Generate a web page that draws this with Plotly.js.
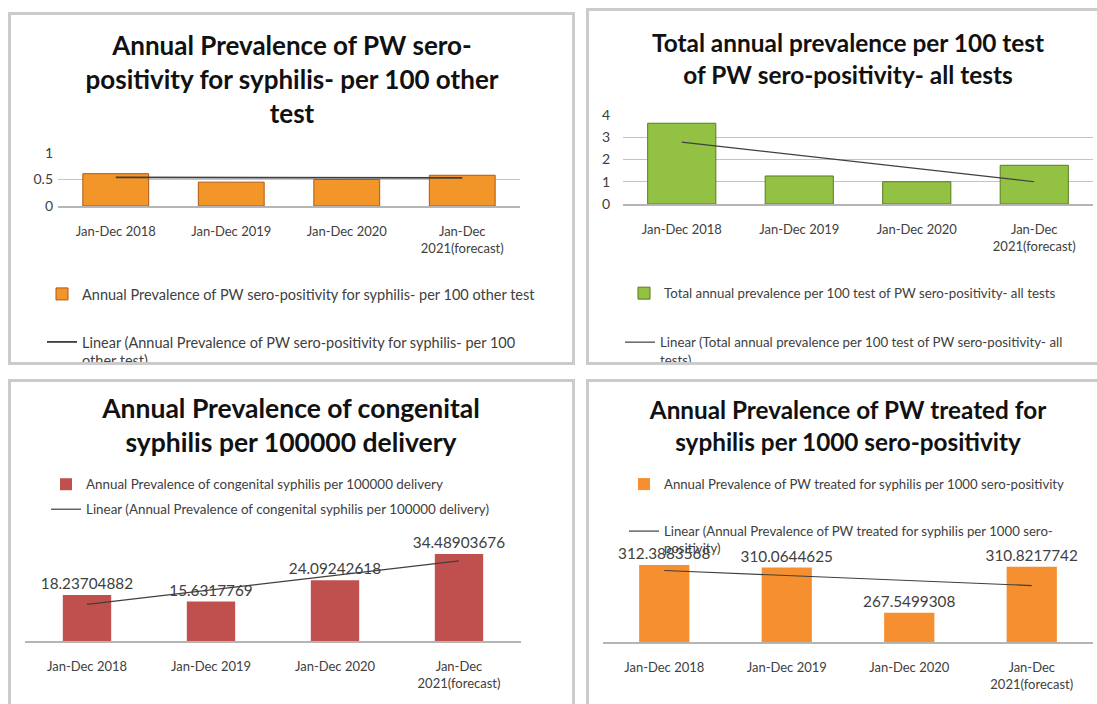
<!DOCTYPE html>
<html><head><meta charset="utf-8">
<script src="https://cdn.plot.ly/plotly-3.0.1.min.js"></script>
<style>
html,body{margin:0;padding:0;background:#fff;}
body{width:1097px;height:704px;overflow:hidden;position:relative;}
.box{position:absolute;border:3px solid #cbcbcb;overflow:hidden;background:#fff;box-sizing:border-box;}
.plot{position:absolute;left:0;top:0;}
</style></head><body>
<div class="box" id="b1"><div class="plot" id="p1"></div></div>
<div class="box" id="b2"><div class="plot" id="p2"></div></div>
<div class="box" id="b3"><div class="plot" id="p3"></div></div>
<div class="box" id="b4"><div class="plot" id="p4"></div></div>
<script>
// ---------- data ----------
const categories = ['Jan-Dec 2018', 'Jan-Dec 2019', 'Jan-Dec 2020', 'Jan-Dec 2021(forecast)'];
const tickLabels = ['Jan-Dec 2018', 'Jan-Dec 2019', 'Jan-Dec 2020', 'Jan-Dec<br>2021(forecast)'];

const otherTestValues = [0.61, 0.45, 0.50, 0.58];
const otherTestTrend = [0.54, 0.53];           // trendline ends (first / last category)

const allTestsValues = [3.63, 1.26, 1.00, 1.74];
const allTestsTrend = [2.78, 1.00];

const congenitalValues = [18.23704882, 15.6317769, 24.09242618, 34.48903676];
const congenitalTrend = [14.5, 31.7];

const treatedValues = [312.3883568, 310.0644625, 267.5499308, 310.8217742];
const treatedTrend = [307.3, 293.1];

const titles = [
  'Annual Prevalence of PW sero-<br>positivity for syphilis- per 100 other<br>test',
  'Total annual prevalence per 100 test<br>of PW sero-positivity- all tests',
  'Annual Prevalence of congenital<br>syphilis per 100000 delivery',
  'Annual Prevalence of PW treated for<br>syphilis per 1000 sero-positivity'
];
const barNames = [
  'Annual Prevalence of PW sero-positivity for syphilis- per 100 other test',
  'Total annual prevalence per 100 test of PW sero-positivity- all tests',
  'Annual Prevalence of congenital syphilis per 100000 delivery',
  'Annual Prevalence of PW treated for syphilis per 1000 sero-positivity'
];
const trendNames = [
  'Linear (Annual Prevalence of PW sero-positivity for syphilis- per 100<br>other test)',
  'Linear (Total annual prevalence per 100 test of PW sero-positivity- all<br>tests)',
  'Linear (Annual Prevalence of congenital syphilis per 100000 delivery)',
  'Linear (Annual Prevalence of PW treated for syphilis per 1000 sero-<br>positivity)'
];

// ---------- layout geometry (page pixels) ----------
const FONT = 'Lato, "Open Sans", sans-serif';
const BW = 3;
const panels = [
  {id:'p1', box:{L:8, T:12, W:567, H:353}, px:[57.5, 520], py:[206, 153], range:[0,1], dtick:0.5,
   grid:true, yticks:true, ystand:4, title:{cx:292, cy:46, size:26}, legSize:14.5,
   leg1:{tx:82, cy:293}, leg2:{tx:82, cy:341}, gap:0.43, lw:1.8,
   bar:{color:'#f3962a', line:'#b05810', lw:1}, vals:otherTestValues, trend:otherTestTrend, labels:false},
  {id:'p2', box:{L:586, T:8, W:530, H:357}, px:[623, 1093], py:[204, 115], range:[0,4], dtick:1,
   grid:true, yticks:true, ystand:12, title:{cx:848, cy:43, size:24.4}, legSize:13.3,
   leg1:{tx:664, cy:293}, leg2:{tx:660, cy:342}, gap:0.42, lw:1.2,
   bar:{color:'#92c144', line:'#587d1f', lw:1}, vals:allTestsValues, trend:allTestsTrend, labels:false},
  {id:'p3', box:{L:8, T:379, W:567, H:340}, px:[25, 521], py:[641, 540.4], range:[0,40], dtick:10,
   grid:false, yticks:false, ystand:4, title:{cx:291, cy:409, size:26.5}, legSize:13.4,
   leg1:{tx:86, cy:484}, leg2:{tx:86, cy:509}, gap:0.61, lw:1.2,
   bar:{color:'#c0504d', line:'#c0504d', lw:0}, vals:congenitalValues, trend:congenitalTrend, labels:true},
  {id:'p4', box:{L:586, T:379, W:530, H:340}, px:[603, 1093], py:[641.7, 557.1], range:[240,320], dtick:20,
   grid:false, yticks:false, ystand:4, title:{cx:848, cy:410, size:24.3}, legSize:13.2,
   leg1:{tx:664, cy:484}, leg2:{tx:664, cy:531}, gap:0.59, lw:1.2,
   bar:{color:'#f58f2f', line:'#f58f2f', lw:0}, vals:treatedValues, trend:treatedTrend, labels:true}
];

panels.forEach((p, i) => {
  const b = document.getElementById('b' + (i+1));
  b.style.left = p.box.L + 'px'; b.style.top = p.box.T + 'px';
  b.style.width = p.box.W + 'px'; b.style.height = p.box.H + 'px';
  const oL = p.box.L + BW, oT = p.box.T + BW;
  const W = p.box.W - 2*BW, H = p.box.H - 2*BW;
  const cx = v => (v - oL) / W;
  const cy = v => 1 - (v - oT) / H;

  const barTrace = {
    type:'bar', x:categories, y:p.vals, name:barNames[i], legend:'legend',
    marker:{color:p.bar.color, line:{color:p.bar.line, width:p.bar.lw}},
    hoverinfo:'skip', cliponaxis:false
  };
  if (p.labels) {
    barTrace.text = p.vals.map(v => String(v));
    barTrace.textposition = 'outside';
    barTrace.constraintext = 'none';
    barTrace.textfont = {family:FONT, size:15.3, color:'#404040'};
  }
  const trendTrace = {
    type:'scatter', mode:'lines', x:[categories[0], categories[categories.length-1]], y:p.trend,
    name:trendNames[i], legend:'legend2', line:{color:'#3f3f3f', width:p.lw}, hoverinfo:'skip',
    cliponaxis:false
  };

  const legBase = {xref:'container', yref:'container', xanchor:'left', yanchor:'top', valign:'top',
    bgcolor:'rgba(0,0,0,0)', font:{family:FONT, size:p.legSize, color:'#404040'}};

  const layout = {
    width:W, height:H,
    margin:{l:p.px[0]-oL, r:W-(p.px[1]-oL), t:p.py[1]-oT, b:H-(p.py[0]-oT), pad:0, autoexpand:false},
    paper_bgcolor:'#fff', plot_bgcolor:'rgba(0,0,0,0)',
    font:{family:FONT, color:'#404040'},
    showlegend:true,
    bargap:p.gap,
    title:{text:titles[i], xref:'container', yref:'container', x:cx(p.title.cx), y:cy(p.title.cy + 9),
      xanchor:'center', yanchor:'middle', automargin:false,
      font:{family:FONT, size:p.title.size, color:'#111', weight:'bold'}},
    xaxis:{type:'category', tickvals:categories, ticktext:tickLabels, showgrid:false, zeroline:false,
      showline:true, linecolor:'#b5b5b5', linewidth:1.5, ticks:'', ticklabelstandoff:13,
      tickfont:{family:FONT, size:13, color:'#404040'}, fixedrange:true, automargin:false},
    yaxis:{range:p.range, dtick:p.dtick, showgrid:p.grid, gridcolor:'#c4c4c4', gridwidth:1.2,
      zeroline:false, showline:false, showticklabels:p.yticks, ticks:'', ticklabelstandoff:p.ystand,
      tickfont:{family:FONT, size:14, color:'#404040'}, fixedrange:true, automargin:false},
    legend:Object.assign({}, legBase, {x:cx(p.leg1.tx - 40), y:cy(p.leg1.cy - 15)}),
    legend2:Object.assign({}, legBase, {x:cx(p.leg2.tx - 40), y:cy(p.leg2.cy - 15)})
  };
  Plotly.newPlot(p.id, [barTrace, trendTrace], layout, {staticPlot:true, displayModeBar:false});
});
</script>
</body></html>
